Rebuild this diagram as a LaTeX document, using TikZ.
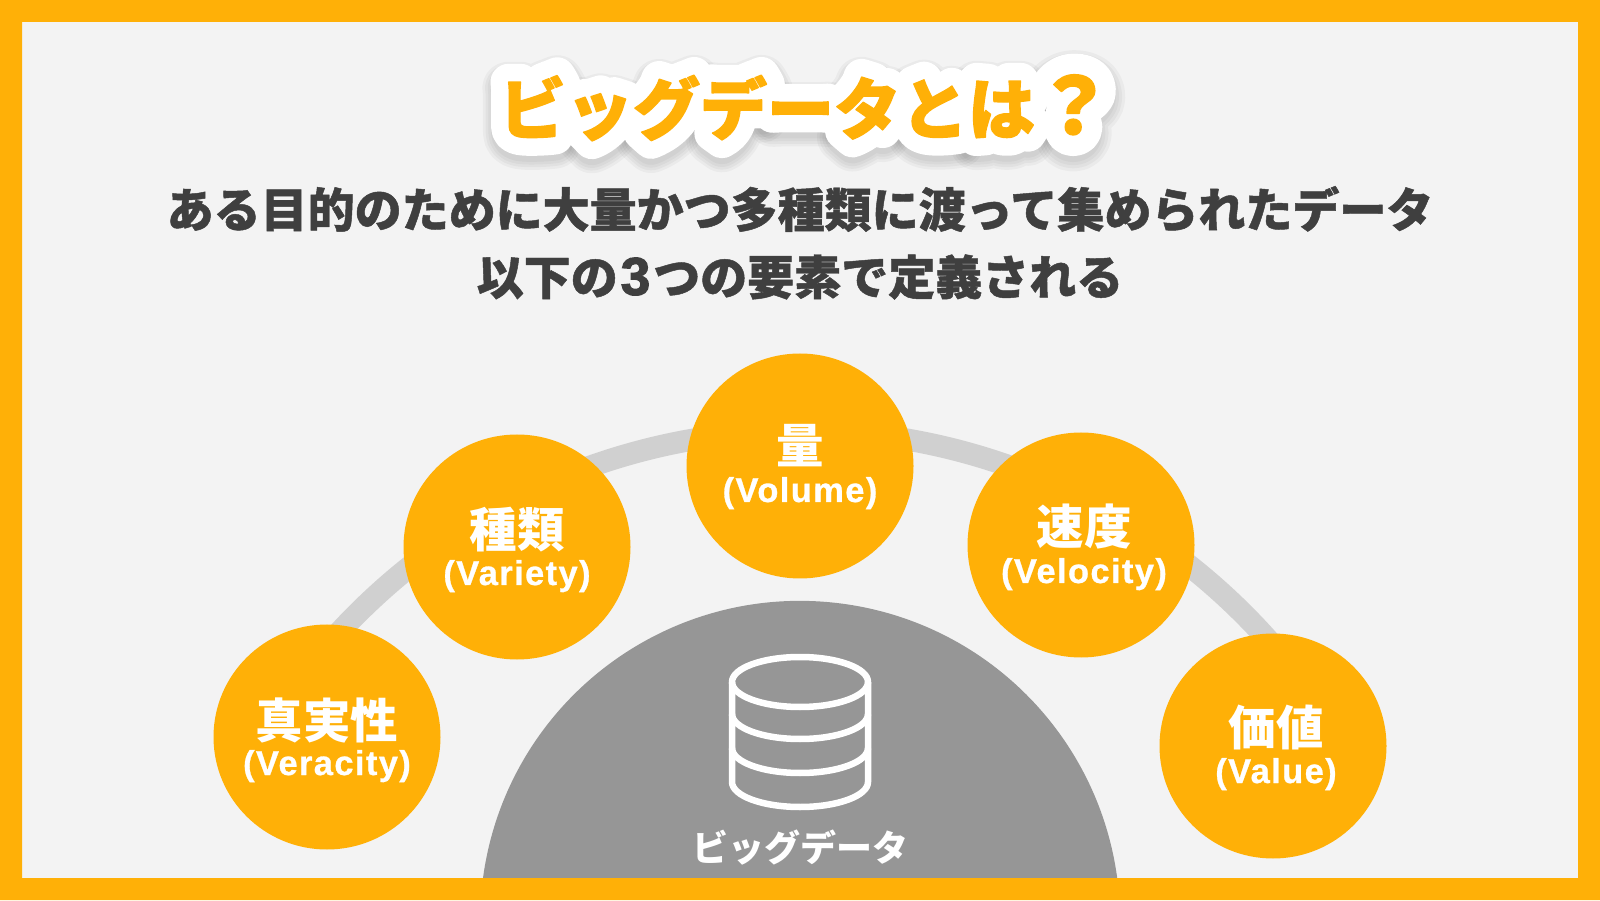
\documentclass[tikz,border=0pt]{standalone}
\usetikzlibrary{shapes.geometric}
\usepackage{fontspec}
\newfontfamily\jpblack{Noto Sans CJK JP Black}
\newfontfamily\jpheavy{Noto Sans CJK JP Black}[FakeBold=1]
\newfontfamily\jptitle{Noto Sans CJK JP Black}[FakeBold=2]
\newfontfamily\jpstrokeA{Noto Sans CJK JP Black}[FakeBold=54]
\newfontfamily\jpstrokeB{Noto Sans CJK JP Black}[FakeBold=62]
\newfontfamily\jpstrokeC{Noto Sans CJK JP Black}[FakeBold=70]
\newfontfamily\jpstrokeD{Noto Sans CJK JP Black}[FakeBold=78]
\newfontfamily\latinfam{Liberation Sans}[BoldFeatures={FakeBold=0.8,LetterSpace=4}]
\newfontfamily\digitfam{Liberation Sans}[BoldFeatures={FakeBold=2.5}]
\newcommand{\titlestring}{ビッグデータとは{\fontsize{78}{78}\selectfont ？}}
\definecolor{frameorange}{HTML}{FFB007}
\definecolor{paper}{HTML}{F3F3F3}
\definecolor{bandgrey}{HTML}{D0D0D0}
\definecolor{domegrey}{HTML}{969696}
\definecolor{inkgrey}{HTML}{3F3F3F}
\tikzset{
  circ/.style={ellipse,fill=frameorange,minimum width=227pt,minimum height=225pt,inner sep=0pt},
  nameText/.style={text=white,inner sep=0pt,font=\jpblack\fontsize{47.5}{47.5}\selectfont},
  enText/.style={text=white,inner sep=0pt,anchor=base,font=\latinfam\bfseries\fontsize{34.5}{34.5}\selectfont},
  subText/.style={text=inkgrey,inner sep=0pt,font=\jpheavy\fontsize{47}{47}\selectfont},
  titleText/.style={inner sep=0pt,text height=62pt,text depth=4pt,execute at begin node=\pgfsetroundjoin\pgfsetroundcap},
  icon/.style={draw=white,line width=6.5pt,line join=round}
}
\begin{document}
\begin{tikzpicture}[x=1pt,y=1pt]
\useasboundingbox (0,0) rectangle (1600,900);
\fill[paper] (0,0) rectangle (1600,900);
% dome
\fill[domegrey] (483,22) arc[start angle=172.3,end angle=7.7,radius=320pt] -- cycle;
% band through the five circles
\coordinate (arcL) at (327,254);
\draw[bandgrey,line width=22pt] (arcL) arc[start angle=139,end angle=41,radius=627pt];
% circles
\node[circ] (ver) at (327,163) {};
\node[circ] (var) at (517,353) {};
\node[circ] (vol) at (800,434) {};
\node[circ] (vel) at (1081,355) {};
\node[circ] (val) at (1273,154) {};
\node[nameText] (verN) at ([yshift=17pt]ver.center) {真実性};
\node[enText] (verE) at ([yshift=-38pt]ver.center) {(Veracity)};
\node[nameText] (varN) at ([yshift=17pt]var.center) {種類};
\node[enText] (varE) at ([yshift=-38pt]var.center) {(Variety)};
\node[nameText] (volN) at ([yshift=20pt]vol.center) {量};
\node[enText] (volE) at ([yshift=-36pt]vol.center) {(Volume)};
\node[nameText] (velN) at ([xshift=3pt,yshift=18pt]vel.center) {速度};
\node[enText] (velE) at ([xshift=3pt,yshift=-38pt]vel.center) {(Velocity)};
\node[nameText] (valN) at ([xshift=3pt,yshift=19pt]val.center) {価値};
\node[enText] (valE) at ([xshift=3pt,yshift=-37pt]val.center) {(Value)};
% database icon
\draw[icon] (800,218) ellipse[x radius=68pt,y radius=25pt];
\draw[icon] (732,218) -- (732,118) arc[start angle=180,end angle=360,x radius=68pt,y radius=25pt] -- (868,218);
\draw[icon] (732,186) arc[start angle=180,end angle=360,x radius=68pt,y radius=25pt];
\draw[icon] (732,152) arc[start angle=180,end angle=360,x radius=68pt,y radius=25pt];
\node[inner sep=0pt,text=white,font=\jpblack\fontsize{36}{36}\selectfont] (bigdata) at (800,52) {ビッグデータ};
% title
\foreach \f/\n in {\jpstrokeD/sd,\jpstrokeC/sc,\jpstrokeB/sb,\jpstrokeA/sa}
  \node[titleText,opacity=0.035,text=black,font=\f\fontsize{67}{67}\selectfont] (\n) at (806,789) {\titlestring};
\node[titleText,text=white,font=\jpstrokeA\fontsize{67}{67}\selectfont] (titleback) at (806,795) {\titlestring};
\node[titleText,text=frameorange,font=\jptitle\fontsize{67}{67}\selectfont] (title) at (806,795) {\titlestring};
% subtitle
\node[subText] (sub1) at (800,691) {ある目的のために大量かつ多種類に渡って集められたデータ};
\node[subText] (sub2) at (800,623) {以下の\hspace{3pt}{\digitfam\bfseries\fontsize{53}{53}\selectfont 3}\hspace{3pt}つの要素で定義される};
% frame
\fill[frameorange,even odd rule] (0,0) rectangle (1600,900) (22,22) rectangle (1578,878);
\end{tikzpicture}
\end{document}
